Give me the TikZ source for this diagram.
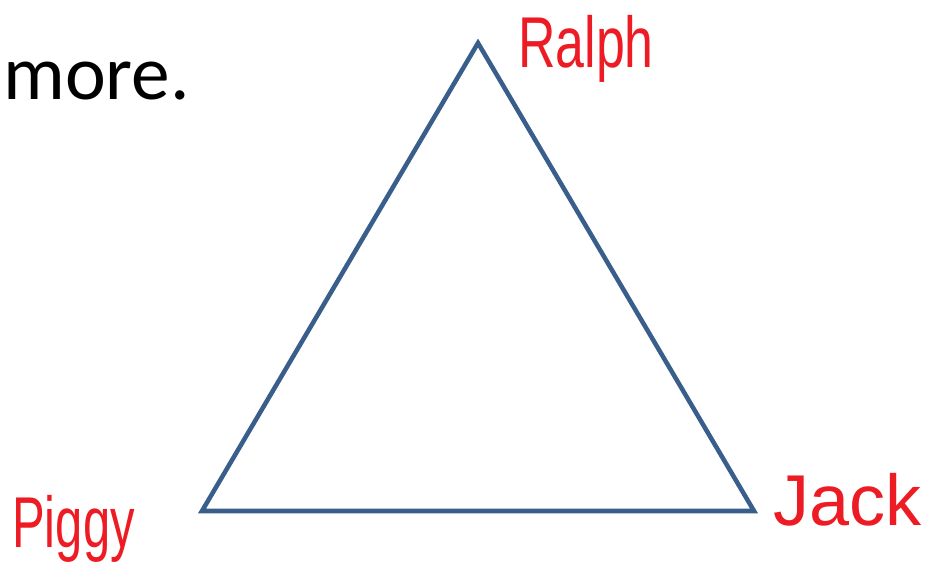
\documentclass[tikz,border=0pt]{standalone}
\usepackage{fontspec}
\setmainfont{Carlito}
\newfontfamily\handfont{Liberation Sans}
\definecolor{triblue}{HTML}{3A5E8C}
\definecolor{inkred}{HTML}{ED1C24}
\tikzset{
  edge/.style={draw=triblue, line width=3.4pt, line join=miter},
  hand/.style={inner sep=0pt, anchor=base west, text=inkred, font=\handfont\fontsize{54}{54}\selectfont},
}
\begin{document}
\begin{tikzpicture}[x=0.75pt,y=-0.75pt]
  \path[clip] (0,0) rectangle (927,577);
  \fill[white] (0,0) rectangle (927,577);
  \node[inner sep=0pt, anchor=base east, font=\fontsize{58}{58}\selectfont] (more) at (190,100) {more.};
  \coordinate (top) at (478,43);
  \coordinate (bl) at (202,511);
  \coordinate (br) at (754,511);
  \draw[edge] (top) -- (br) -- (bl) -- cycle;
  \node[hand] (ralph) at (518,68) {\scalebox{0.72}[1]{Ralph}};
  \node[hand] (jack) at (773,525) {\scalebox{1.0}[1]{Jack}};
  \node[hand] (piggy) at (12,547) {\scalebox{0.68}[1]{Piggy}};
\end{tikzpicture}
\end{document}
